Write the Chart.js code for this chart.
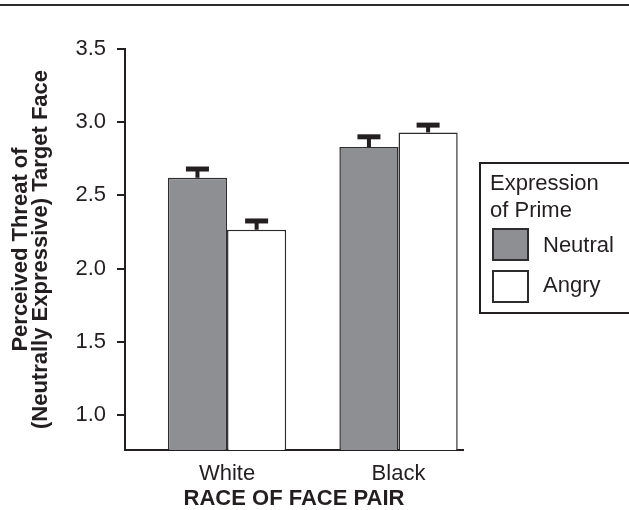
<!DOCTYPE html>
<html>
<head>
<meta charset="utf-8">
<script src="https://cdn.jsdelivr.net/npm/chart.js@4.4.1/dist/chart.umd.min.js"></script>
<style>
  html, body { margin: 0; padding: 0; background: #fff; }
  #wrap { position: relative; width: 629px; height: 510px; overflow: hidden; }
  #rule { position: absolute; left: 0; top: 4px; width: 629px; height: 2px; background: #2b2b2b; }
  canvas { position: absolute; left: 0; top: 0; }
</style>
</head>
<body>
<div id="wrap">
  <canvas id="barChart" width="629" height="510"></canvas>
  <div id="rule"></div>
</div>
<script>
// values
const categories = ["White", "Black"];
const seriesNames = ["Neutral", "Angry"];
const neutralValues = [2.62, 2.83];
const angryValues = [2.265, 2.93];
const neutralErrors = [0.06, 0.07];
const angryErrors = [0.06, 0.05];
const yTicks = [1.0, 1.5, 2.0, 2.5, 3.0, 3.5];
const legendTitle = ["Expression", "of Prime"];

const ink = "#231f20";
const family = "'Liberation Sans', Arial, Helvetica, sans-serif";

// up-only error bars with a thick cap
const errorBars = {
    id: "errorBars",
    afterDatasetsDraw(chart) {
        const { ctx } = chart;
        const y = chart.scales.y;
        ctx.save();
        ctx.fillStyle = ink;
        chart.data.datasets.forEach((ds, di) => {
            const meta = chart.getDatasetMeta(di);
            meta.data.forEach((bar, i) => {
                const top = y.getPixelForValue(ds.data[i].y + ds.errors[i]);
                ctx.fillRect(bar.x - 2, top, 4, bar.y - top);
                ctx.fillRect(bar.x - 11.5, top - 2.5, 23, 5);
            });
        });
        ctx.restore();
    }
};

// boxed legend, cut off by the right edge like the original
const boxLegend = {
    id: "boxLegend",
    afterDraw(chart) {
        const { ctx } = chart;
        ctx.save();
        ctx.strokeStyle = ink;
        ctx.lineWidth = 2;
        ctx.strokeRect(480, 163, 170, 150);
        ctx.font = "22px " + family;
        ctx.fillStyle = ink;
        ctx.textBaseline = "alphabetic";
        ctx.fillText(legendTitle[0], 490, 190);
        ctx.fillText(legendTitle[1], 490, 217);
        chart.data.datasets.forEach((ds, i) => {
            const top = 229 + i * 42;
            ctx.fillStyle = ds.backgroundColor;
            ctx.fillRect(493, top, 35, 31);
            ctx.strokeStyle = ds.borderColor;
            ctx.lineWidth = 2;
            ctx.strokeRect(493, top, 35, 31);
            ctx.fillStyle = ink;
            ctx.fillText(ds.label, 543, 252 + i * 40);
        });
        ctx.restore();
    }
};

const createBarChart = () => {
    const ctx = document.getElementById("barChart");
    new Chart(ctx, {
        type: "bar",
        data: {
            datasets: [
                {
                    label: seriesNames[0],
                    data: categories.map((c, i) => ({ x: i + 1, y: neutralValues[i] })),
                    errors: neutralErrors,
                    backgroundColor: "#8e8f92",
                    borderColor: "#2e2c2d",
                    borderWidth: 1.5
                },
                {
                    label: seriesNames[1],
                    data: categories.map((c, i) => ({ x: i + 1, y: angryValues[i] })),
                    errors: angryErrors,
                    backgroundColor: "#ffffff",
                    borderColor: "#2e2c2d",
                    borderWidth: 1.5
                }
            ]
        },
        options: {
            responsive: false,
            animation: false,
            categoryPercentage: 0.69,
            barPercentage: 1.0,
            layout: { padding: { top: 49, right: 166, bottom: 0, left: 0 } },
            plugins: {
                legend: { display: false },
                tooltip: { enabled: false }
            },
            scales: {
                x: {
                    type: "linear",
                    offset: false,
                    min: 0.405,
                    max: 2.376,
                    afterBuildTicks: (scale) => {
                        scale.ticks = categories.map((c, i) => ({ value: i + 1 }));
                    },
                    afterFit: (scale) => { scale.height = 60; },
                    grid: { display: false, drawTicks: false },
                    border: { display: true, color: ink, width: 2 },
                    ticks: {
                        color: ink,
                        padding: 11,
                        maxRotation: 0,
                        font: { family, size: 22 },
                        callback: (v) => categories[v - 1]
                    },
                    title: {
                        display: true,
                        text: "RACE OF FACE PAIR",
                        color: ink,
                        padding: { top: 0, bottom: -2 },
                        font: { family, size: 22, weight: "bold" }
                    }
                },
                y: {
                    min: 0.76,
                    max: 3.5,
                    beginAtZero: false,
                    afterBuildTicks: (scale) => {
                        scale.ticks = yTicks.map((v) => ({ value: v }));
                    },
                    afterFit: (scale) => { scale.width = 125; },
                    grid: {
                        drawOnChartArea: false,
                        drawTicks: true,
                        tickLength: 8,
                        color: ink,
                        lineWidth: 2
                    },
                    border: { display: true, color: ink, width: 2 },
                    ticks: {
                        color: ink,
                        padding: 11,
                        font: { family, size: 22 },
                        callback: (v) => v.toFixed(1)
                    },
                    title: {
                        display: true,
                        text: ["Perceived Threat of", "(Neutrally Expressive) Target Face"],
                        color: ink,
                        padding: { top: 11, bottom: 0 },
                        font: { family, size: 22, weight: "bold", lineHeight: 0.9 }
                    }
                }
            }
        },
        plugins: [errorBars, boxLegend]
    });
};

createBarChart();
</script>
</body>
</html>
